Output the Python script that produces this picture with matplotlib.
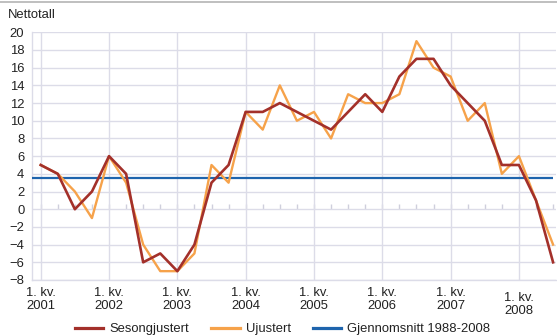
#!/usr/bin/env python3
"""Nettotall 2001-2008: sesongjustert, ujustert og snitt 1988-2008."""
import numpy as np
import matplotlib
matplotlib.use("Agg")
import matplotlib.pyplot as plt
from matplotlib.lines import Line2D

plt.rcParams["font.family"] = ["Liberation Sans", "DejaVu Sans"]

# kvartalsdata 1. kv. 2001 - 3. kv. 2008
AAR = [2001, 2002, 2003, 2004, 2005, 2006, 2007, 2008]
SESONG = [5, 4, 0, 2, 6, 4, -6, -5, -7, -4, 3, 5, 11, 11, 12, 11,
          10, 9, 11, 13, 11, 15, 17, 17, 14, 12, 10, 5, 5, 1, -6]
UJUSTERT = [5, 4, 2, -1, 6, 3, -4, -7, -7, -5, 5, 3, 11, 9, 14, 10,
            11, 8, 13, 12, 12, 13, 19, 16, 15, 10, 12, 4, 6, 1, -4]
SNITT = 3.5
Y_TICKS = list(range(-8, 21, 2))

RED, ORANGE, BLUE = "#a3302a", "#f6a24a", "#1e64ad"
GRID = "#dcdce8"
W, H = 557, 336

fig = plt.figure(figsize=(W / 100, H / 100), dpi=100)
ax = fig.add_axes([32 / W, 56 / H, (556.5 - 32) / W, (280 - 32.3) / H])

x = np.arange(len(SESONG))
x0, x1 = -0.51, 30.2
ax.plot([x0, x[-1]], [SNITT, SNITT], color=BLUE, lw=1.6, zorder=3, solid_capstyle="butt")
ax.plot(x, UJUSTERT, color=ORANGE, lw=1.7, zorder=4)
ax.plot(x, SESONG, color=RED, lw=1.9, zorder=5)

ax.set_xlim(x0, x1)
ax.set_ylim(-8, 20)
ax.set_yticks(Y_TICKS)
ax.set_xticks([4 * i for i in range(len(AAR))])
ax.tick_params(axis="both", length=0, labelsize=9.4, colors="#222")
ax.tick_params(axis="y", pad=5.5)
ax.tick_params(axis="x", labelbottom=False)
ax.grid(True, color=GRID, lw=1.0, zorder=0)
for s in ("top", "right"):
    ax.spines[s].set_visible(False)
for s in ("left", "bottom"):
    ax.spines[s].set_color(GRID)
    ax.spines[s].set_linewidth(1.0)

# små kvartalsstreker på nullinjen
ax.vlines(x, 0, 0.62, color="#cfcfdc", lw=1.0, zorder=1)

for i, aar in enumerate(AAR):
    dy = -4.8 - (3.6 if aar == AAR[-1] else 0)
    ax.annotate(f"1. kv.\n{aar}", xy=(4 * i, 0), xycoords=("data", "axes fraction"),
                xytext=(0, dy), textcoords="offset points", ha="center", va="top",
                fontsize=9.4, color="#222", linespacing=1.2)

fig.text(7.5 / W, 1 - 15 / H, "Nettotall", fontsize=9.4, color="#222", va="center", ha="left")
fig.add_artist(Line2D([0, 1], [1 - 1.8 / H, 1 - 1.8 / H], transform=fig.transFigure,
                      color="#b4b4b4", lw=1.2))

handles = [Line2D([], [], color=RED, lw=2.3), Line2D([], [], color=ORANGE, lw=2.3),
           Line2D([], [], color=BLUE, lw=2.3)]
fig.legend(handles, ["Sesongjustert", "Ujustert", "Gjennomsnitt 1988-2008"],
           loc="center", bbox_to_anchor=(282.5 / W, 7 / H), ncol=3, frameon=False,
           fontsize=9.4, handlelength=2.2, handletextpad=0.45, columnspacing=1.7,
           borderpad=0, borderaxespad=0, labelcolor="#222")

fig.savefig("out.png", dpi=100)
